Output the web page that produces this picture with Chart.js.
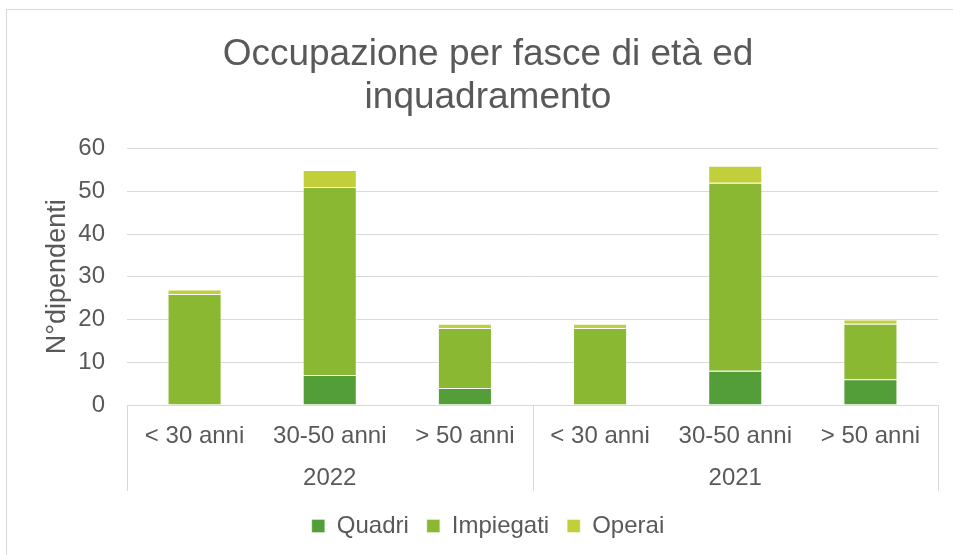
<!DOCTYPE html>
<html>
<head>
<meta charset="utf-8">
<script src="https://cdn.jsdelivr.net/npm/chart.js@4"></script>
<style>
  html, body { margin: 0; padding: 0; background: #fff; }
  body { width: 953px; height: 555px; position: relative; overflow: hidden; }
  #frame { position: absolute; left: 6px; top: 9px; width: 960px; height: 560px;
           border-left: 1px solid #d9d9d9; border-top: 1px solid #d9d9d9; }
  #wrap { position: absolute; left: 7px; top: 10px; width: 946px; height: 545px; }
</style>
</head>
<body>
<div id="frame"></div>
<div id="wrap"><canvas id="c" width="946" height="545"></canvas></div>
<script>
const chartTitle = ['Occupazione per fasce di età ed', 'inquadramento'];
const yAxisTitle = 'N°dipendenti';
const ageGroups = ['< 30 anni', '30-50 anni', '> 50 anni', '< 30 anni', '30-50 anni', '> 50 anni'];
const years = ['2022', '2021'];
const groupSize = 3;
const quadri    = [0, 7, 4, 0, 8, 6];
const impiegati = [26, 44, 14, 18, 44, 13];
const operai    = [1, 4, 1, 1, 4, 1];
const yTicks = [0, 10, 20, 30, 40, 50, 60];

const TEXT = '#595959';
const GRID = '#d9d9d9';
const FONT = "'Liberation Sans', Arial, sans-serif";

const groupPlugin = {
  id: 'groupAxis',
  afterDraw(chart) {
    const x = chart.scales.x;
    const ctx = chart.ctx;
    const n = ageGroups.length;
    const step = (x.getPixelForValue(1) - x.getPixelForValue(0));
    const top = chart.chartArea.bottom;
    const bottom = top + 86;
    ctx.save();
    ctx.strokeStyle = GRID;
    ctx.lineWidth = 1;
    for (let g = 0; g <= n / groupSize; g++) {
      const idx = g * groupSize;
      const px = Math.round(x.getPixelForValue(0) + (idx - 0.5) * step) + 0.5;
      ctx.beginPath();
      ctx.moveTo(px, top);
      ctx.lineTo(px, bottom);
      ctx.stroke();
    }
    ctx.fillStyle = TEXT;
    ctx.font = '24px ' + FONT;
    ctx.textAlign = 'center';
    ctx.textBaseline = 'middle';
    years.forEach((yr, g) => {
      const a = x.getPixelForValue(g * groupSize);
      const b = x.getPixelForValue(g * groupSize + groupSize - 1);
      ctx.fillText(yr, (a + b) / 2, top + 73);
    });
    ctx.restore();
  }
};

const bw = 1, bc = 'rgba(255,255,255,0.35)';
new Chart(document.getElementById('c'), {
  type: 'bar',
  data: {
    labels: ageGroups,
    datasets: [
      { label: 'Quadri', data: quadri, backgroundColor: '#549E39', borderColor: bc, borderWidth: bw },
      { label: 'Impiegati', data: impiegati, backgroundColor: '#8AB833', borderColor: bc, borderWidth: bw },
      { label: 'Operai', data: operai, backgroundColor: '#C0CF3A', borderColor: bc, borderWidth: bw }
    ]
  },
  options: {
    responsive: false,
    animation: false,
    devicePixelRatio: 1,
    layout: { padding: { left: 31, right: 15, top: 0, bottom: 7 } },
    datasets: { bar: { categoryPercentage: 1, barPercentage: 0.4 } },
    plugins: {
      title: {
        display: true,
        text: chartTitle,
        color: TEXT,
        font: { family: FONT, size: 37, weight: 'normal', lineHeight: 1.17 },
        padding: { top: 23, bottom: 29 }
      },
      legend: {
        position: 'bottom',
        labels: {
          color: TEXT,
          font: { family: FONT, size: 24 },
          boxWidth: 13, boxHeight: 13,
          padding: 18
        }
      },
      tooltip: { enabled: false }
    },
    scales: {
      x: {
        stacked: true,
        grid: { display: false, drawTicks: false },
        border: { display: true, color: GRID, width: 1 },
        ticks: { color: TEXT, font: { family: FONT, size: 24 }, padding: 17, maxRotation: 0, autoSkip: false },
        afterFit(s) { s.height = 91; }
      },
      y: {
        stacked: true,
        min: 0, max: 60,
        afterBuildTicks(s) { s.ticks = yTicks.map(v => ({ value: v })); },
        grid: { color: GRID, lineWidth: 1, drawTicks: false },
        border: { display: false },
        ticks: { color: TEXT, font: { family: FONT, size: 24 }, padding: 22 },
        title: {
          display: true, text: yAxisTitle, color: TEXT,
          font: { family: FONT, size: 27 }, padding: { top: 3, bottom: 0 }
        },
        afterFit(s) { s.width = 89; }
      }
    }
  },
  plugins: [groupPlugin]
});
</script>
</body>
</html>
